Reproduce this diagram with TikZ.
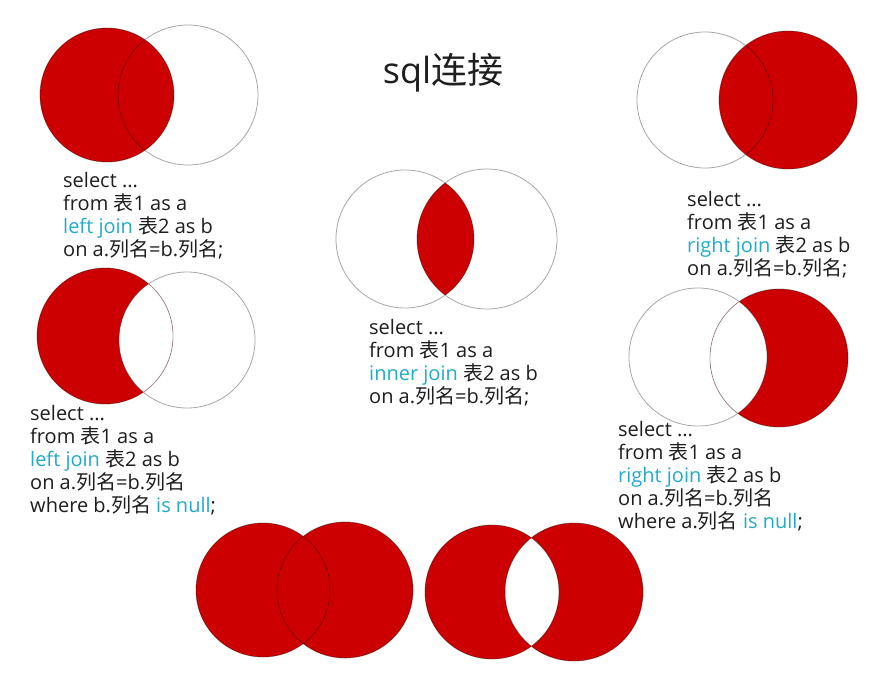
\documentclass[tikz,border=0pt]{standalone}
\usepackage{fontspec}
\setmainfont{Open Sans}
\newfontfamily\cjk{Noto Sans CJK SC}
\newcommand\zh[1]{{\cjk #1}}
\definecolor{vred}{RGB}{204,0,0}
\definecolor{jcyan}{RGB}{35,170,200}
\definecolor{txt}{RGB}{30,30,30}
\newcommand\kw[1]{\textcolor{jcyan}{#1}}
\begin{document}
\begin{tikzpicture}[x=1pt,y=-1pt,
  code/.style={anchor=base west, align=left, inner sep=0pt, text=txt, font=\fontsize{20}{23}\selectfont},
  ring/.style={draw=black, draw opacity=0.35, line width=0.8pt}]
\useasboundingbox[fill=white] (0,0) rectangle (872,673);

% title
\node[text=txt, font=\fontsize{36}{40}\selectfont, inner sep=0pt] (title) at (443,73) {sql\zh{连接}};

% top-left: left join
\fill[vred] (107,95) circle (67pt);
\draw[ring] (107,95) circle (67pt) (188,95) circle (70pt);
\node[code] (tl) at (63,256) {select ...\\from \zh{表}1 as a\\\kw{left join} \zh{表}2 as b\\on a.\zh{列名}=b.\zh{列名};};

% middle: inner join
\begin{scope}
  \clip (405,239) circle (69pt);
  \fill[vred] (487,239) circle (70pt);
\end{scope}
\draw[ring] (405,239) circle (69pt) (487,239) circle (70pt);
\node[code] (mid) at (369,403) {select ...\\from \zh{表}1 as a\\\kw{inner join} \zh{表}2 as b\\on a.\zh{列名}=b.\zh{列名};};

% top-right: right join
\fill[vred] (788,100) circle (69pt);
\draw[ring] (705,100) circle (68pt) (788,100) circle (69pt);
\node[code] (tr) at (687,275) {select ...\\from \zh{表}1 as a\\\kw{right join} \zh{表}2 as b\\on a.\zh{列名}=b.\zh{列名};};

% left only
\fill[vred] (105,336) circle (68pt);
\begin{scope}
  \clip (105,336) circle (68pt);
  \fill[white] (187,340) circle (68pt);
\end{scope}
\draw[ring] (105,336) circle (68pt) (187,340) circle (68pt);
\node[code] (ml) at (30,512) {select ...\\from \zh{表}1 as a\\\kw{left join} \zh{表}2 as b\\on a.\zh{列名}=b.\zh{列名}\\where b.\zh{列名} \kw{is null};};

% right only
\fill[vred] (779,358) circle (69pt);
\begin{scope}
  \clip (779,358) circle (69pt);
  \fill[white] (698,357) circle (69pt);
\end{scope}
\draw[ring] (698,357) circle (69pt) (779,358) circle (69pt);
\node[code] (mr) at (618,528) {select ...\\from \zh{表}1 as a\\\kw{right join} \zh{表}2 as b\\on a.\zh{列名}=b.\zh{列名}\\where a.\zh{列名} \kw{is null};};

% bottom: full outer join
\fill[vred] (263,590) circle (67pt) (345,590) circle (68pt);
\draw[ring] (263,590) circle (67pt) (345,590) circle (68pt);

% bottom: symmetric difference
\fill[vred, even odd rule] (492,592) circle (67pt) (574,592) circle (69pt);
\draw[ring] (492,592) circle (67pt) (574,592) circle (69pt);
\end{tikzpicture}
\end{document}
